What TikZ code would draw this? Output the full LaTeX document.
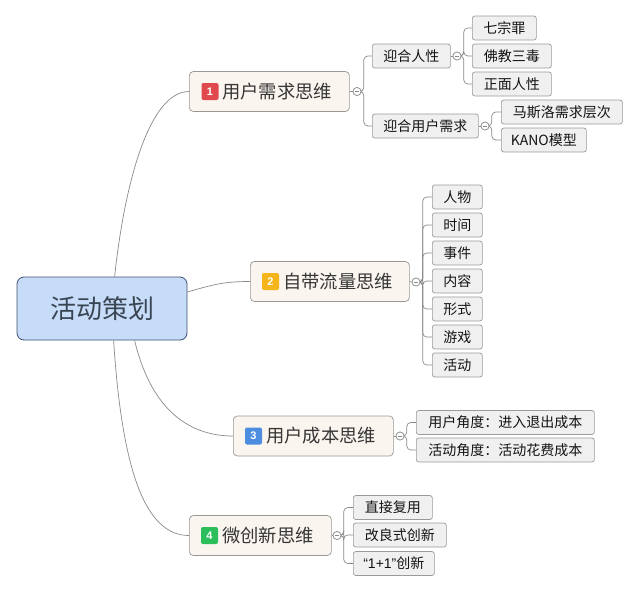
\documentclass[tikz,border=0pt]{standalone}
\usepackage{fontspec}
\setmainfont{Noto Sans CJK SC}
\newfontfamily\latinfont{Liberation Sans}
\definecolor{rootfill}{HTML}{C7DCF8}
\definecolor{rootborder}{HTML}{3E5272}
\definecolor{roottext}{HTML}{3A4554}
\definecolor{branchfill}{HTML}{FAF5EE}
\definecolor{branchborder}{HTML}{9A9896}
\definecolor{branchtext}{HTML}{363636}
\definecolor{leaffill}{HTML}{F0F0F0}
\definecolor{leafborder}{HTML}{9A9A9A}
\definecolor{leaftext}{HTML}{141414}
\definecolor{linecol}{HTML}{8A8A8A}
\definecolor{badgered}{HTML}{E04A4F}
\definecolor{badgeyellow}{HTML}{F4B41A}
\definecolor{badgeblue}{HTML}{4C8DE0}
\definecolor{badgegreen}{HTML}{2BBE5B}
\tikzset{
  rootbox/.style={draw=rootborder, fill=rootfill, rounded corners=7pt, line width=0.8pt,
    minimum width=170pt, minimum height=63pt, inner sep=0pt,
    font=\fontsize{26pt}{30pt}\selectfont, text=roottext},
  branchbox/.style={draw=branchborder, fill=branchfill, rounded corners=4pt, line width=0.7pt,
    minimum height=40pt, inner xsep=12pt, inner ysep=0pt, align=left, anchor=west,
    font=\fontsize{18.3pt}{21pt}\selectfont, text=branchtext},
  leafbox/.style={draw=leafborder, fill=leaffill, rounded corners=2.5pt, line width=0.7pt,
    minimum height=24pt, inner sep=0pt, anchor=west,
    font=\fontsize{14pt}{16pt}\selectfont, text=leaftext},
  badgebox/.style={fill=#1, rounded corners=2pt, minimum size=17pt, inner sep=0pt,
    text=white, font=\latinfont\bfseries\fontsize{11pt}{12pt}\selectfont},
  dotnode/.style={circle, draw=linecol, fill=white, minimum size=8pt, inner sep=0pt, line width=0.6pt,
    path picture={\draw[linecol, line width=0.6pt]
      ([xshift=-2.3pt]path picture bounding box.center) -- ([xshift=2.3pt]path picture bounding box.center);}},
  conn/.style={draw=linecol, line width=0.7pt},
  elbow/.style={draw=linecol, line width=0.7pt, rounded corners=4pt}
}
\begin{document}
\begin{tikzpicture}[x=1pt,y=-1pt]
\useasboundingbox[fill=white] (0,0) rectangle (639,592);

% root
\node[rootbox] (root) at (102,308.5) {活动策划};

% branch 1
\node[branchbox, text width=136pt] (b1) at (189,91.5) {\hspace*{21pt}用户需求思维};
\node[badgebox=badgered] (k1) at (210,91.5) {1};
\node[dotnode] (d1) at (357,91.5) {};
\node[leafbox, minimum width=78pt] (a1) at (372,56) {迎合人性};
\node[dotnode] (d11) at (457,56) {};
\node[leafbox, minimum width=64pt] (a11) at (472,28) {七宗罪};
\node[leafbox, minimum width=79pt] (a12) at (472,56) {佛教三毒};
\node[leafbox, minimum width=79pt] (a13) at (472,84) {正面人性};
\node[leafbox, minimum width=106pt] (a2) at (372,126) {迎合用户需求};
\node[dotnode] (d12) at (485,126) {};
\node[leafbox, minimum width=121pt] (a21) at (501,112) {马斯洛需求层次};
\node[leafbox, minimum width=85pt] (a22) at (501,140) {KANO模型};

% branch 2
\node[branchbox, text width=135pt] (b2) at (250,281.5) {\hspace*{21pt}自带流量思维};
\node[badgebox=badgeyellow] (k2) at (270.5,281.5) {2};
\node[dotnode] (d2) at (416,282) {};
\node[leafbox, minimum width=50pt] (c1) at (432,197) {人物};
\node[leafbox, minimum width=50pt] (c2) at (432,225) {时间};
\node[leafbox, minimum width=50pt] (c3) at (432,253) {事件};
\node[leafbox, minimum width=50pt] (c4) at (432,281) {内容};
\node[leafbox, minimum width=50pt] (c5) at (432,309) {形式};
\node[leafbox, minimum width=50pt] (c6) at (432,337) {游戏};
\node[leafbox, minimum width=50pt] (c7) at (432,365) {活动};

% branch 3
\node[branchbox, text width=136pt] (b3) at (233,436) {\hspace*{21pt}用户成本思维};
\node[badgebox=badgeblue] (k3) at (253.5,436) {3};
\node[dotnode] (d3) at (400,436) {};
\node[leafbox, minimum width=178pt] (e1) at (416,422.5) {用户角度：进入退出成本};
\node[leafbox, minimum width=178pt] (e2) at (416,450) {活动角度：活动花费成本};

% branch 4
\node[branchbox, text width=118pt] (b4) at (189,535.5) {\hspace*{21pt}微创新思维};
\node[badgebox=badgegreen] (k4) at (209.5,535.5) {4};
\node[dotnode] (d4) at (337,535.5) {};
\node[leafbox, minimum width=79pt] (f1) at (353,507.5) {直接复用};
\node[leafbox, minimum width=93pt] (f2) at (353,535) {改良式创新};
\node[leafbox, minimum width=81pt] (f3) at (353,563.5) {{\latinfont “1+1”}创新};

% root connectors
\draw[conn] ([xshift=98pt]root.north west) .. controls (125,180) and (150,91.5) .. (b1.west);
\draw[conn] ([yshift=16.5pt]root.east) .. controls (215,284) and (225,281.5) .. (b2.west);
\draw[conn] ([xshift=118pt]root.south west) .. controls (150,405) and (185,436) .. (b3.west);
\draw[conn] ([xshift=97pt]root.south west) .. controls (122,470) and (145,535.5) .. (b4.west);

% branch to dot
\draw[conn] (b1.east) -- (d1.west);
\draw[conn] (a1.east) -- (d11.west);
\draw[conn] (a2.east) -- (d12.west);
\draw[conn] (b2.east) -- (d2.west);
\draw[conn] (b3.east) -- (d3.west);
\draw[conn] (b4.east) -- (d4.west);

% dot to children
\foreach \c in {a1,a2} \draw[elbow] (d1.east) -- ++(2.5,0) |- (\c.west);
\foreach \c in {a11,a12,a13} \draw[elbow] (d11.east) -- ++(2.5,0) |- (\c.west);
\foreach \c in {a21,a22} \draw[elbow] (d12.east) -- ++(2.5,0) |- (\c.west);
\foreach \c in {c1,c2,c3,c4,c5,c6,c7} \draw[elbow] (d2.east) -- ++(2.5,0) |- (\c.west);
\foreach \c in {e1,e2} \draw[elbow] (d3.east) -- ++(2.5,0) |- (\c.west);
\foreach \c in {f1,f2,f3} \draw[elbow] (d4.east) -- ++(2.5,0) |- (\c.west);

% redraw dots on top
\node[dotnode] at (d1) {};
\node[dotnode] at (d11) {};
\node[dotnode] at (d12) {};
\node[dotnode] at (d2) {};
\node[dotnode] at (d3) {};
\node[dotnode] at (d4) {};
\end{tikzpicture}
\end{document}
